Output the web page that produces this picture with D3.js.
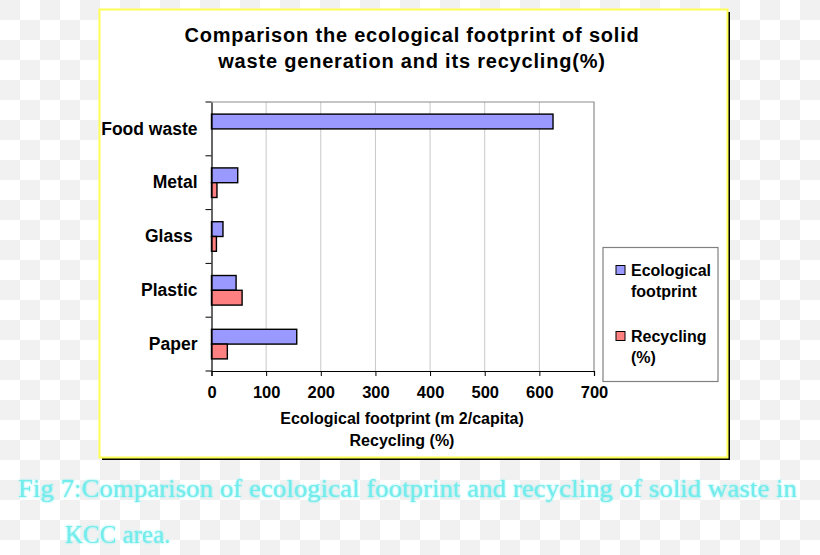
<!DOCTYPE html>
<html><head><meta charset="utf-8">
<script src="https://cdn.jsdelivr.net/npm/d3@7"></script>
<style>
body{margin:0;padding:0;background:#fff;}
svg text{font-family:"Liberation Sans",Arial,sans-serif;}
svg text.cap{font-family:"Liberation Serif","Times New Roman",serif;}
</style></head>
<body><svg id="c" width="820" height="555"></svg>
<script>
const categories = ["Food waste", "Metal", "Glass ", "Plastic", "Paper"];
const ecological = [625, 48, 21, 45, 156];
const recycling = [null, 10, 9, 56, 29];
const seriesNames = ["Ecological footprint", "Recycling (%)"];
const xTicks = [0, 100, 200, 300, 400, 500, 600, 700];
const titleLines = ["Comparison the ecological footprint of solid", "waste generation and its recycling(%)"];
const axisTitleLines = ["Ecological footprint (m 2/capita)", "Recycling (%)"];
const captionLines = ["Fig 7:Comparison of ecological footprint and recycling of solid waste in", "KCC area."];

const svg = d3.select("#c");
const defs = svg.append("defs");
const pat = defs.append("pattern").attr("id","chk").attr("width",40).attr("height",40).attr("patternUnits","userSpaceOnUse");
pat.append("rect").attr("width",40).attr("height",40).attr("fill","#ffffff");
pat.append("rect").attr("width",20).attr("height",20).attr("fill","#f1f1f1");
pat.append("rect").attr("x",20).attr("y",20).attr("width",20).attr("height",20).attr("fill","#f1f1f1");
const glow = defs.append("filter").attr("id","glow").attr("x","-5%").attr("y","-30%").attr("width","110%").attr("height","160%");
glow.append("feGaussianBlur").attr("stdDeviation",1.2).attr("result","b");
const fm = glow.append("feMerge");
fm.append("feMergeNode").attr("in","b");
fm.append("feMergeNode").attr("in","SourceGraphic");

svg.append("rect").attr("width",820).attr("height",555).attr("fill","url(#chk)");

svg.append("rect").attr("x",102).attr("y",12).attr("width",628).attr("height",448).attr("fill","#000");
svg.append("rect").attr("x",99.5).attr("y",9.5).attr("width",628).attr("height",448).attr("fill","#fff").attr("stroke","#ffff55").attr("stroke-width",2);

const tt = svg.append("text").attr("text-anchor","middle").attr("font-weight","bold").attr("font-size",20).attr("letter-spacing",0.8).attr("fill","#000");
titleLines.forEach((l,i)=>tt.append("tspan").attr("x",412).attr("y",42+i*26).text(l));

const L=211.5, R=594, T=102, B=371;
const x = d3.scaleLinear().domain([0,700]).range([L,R]);
const y = d3.scaleBand().domain(categories).range([T,B]).paddingInner(0.45).paddingOuter(0.225);
const yi = d3.scaleBand().domain(["eco","rec"]).range([0,y.bandwidth()]);

svg.append("g").selectAll("line").data(xTicks.slice(1,-1)).join("line")
  .attr("x1",d=>x(d)).attr("x2",d=>x(d)).attr("y1",T).attr("y2",B)
  .attr("stroke","#c8c8c8").attr("stroke-width",1);
svg.append("path").attr("d",`M${L},${T}H${R}V${B}`).attr("fill","none").attr("stroke","#8c8c8c").attr("stroke-width",1.2);

const colors = {eco:"#9999ff", rec:"#ff8080"};
const rows = categories.map((c,i)=>({c, eco:ecological[i], rec:recycling[i]}));
const g = svg.append("g");
rows.forEach(r=>{
  ["eco","rec"].forEach(k=>{
    if(r[k]==null) return;
    g.append("rect").attr("x",x(0)).attr("y",y(r.c)+yi(k)).attr("width",x(r[k])-x(0)).attr("height",yi.bandwidth())
      .attr("fill",colors[k]).attr("stroke","#000").attr("stroke-width",1.4);
  });
});

const xa = svg.append("g").attr("transform",`translate(0,${B})`).call(d3.axisBottom(x).tickValues(xTicks).tickSize(5).tickPadding(10));
xa.select(".domain").attr("stroke","#000").attr("stroke-width",1.2);
xa.selectAll(".tick line").attr("stroke","#000");
xa.selectAll("text").attr("font-size",16.5).attr("font-weight","bold").attr("fill","#000").attr("font-family","Liberation Sans, Arial, sans-serif");

const ya = svg.append("g").attr("transform",`translate(${L},0)`).call(d3.axisLeft(y).tickSize(0).tickPadding(14));
ya.select(".domain").attr("stroke","#000").attr("stroke-width",1.2);
ya.selectAll("text").attr("font-size",17.5).attr("font-weight","bold").attr("fill","#000").attr("font-family","Liberation Sans, Arial, sans-serif").style("white-space","pre");
const bounds = categories.map(c=>y(c)-y.step()*y.paddingInner()/2).concat([B]);
svg.append("g").selectAll("line").data(bounds).join("line")
  .attr("x1",L-6).attr("x2",L).attr("y1",d=>d).attr("y2",d=>d).attr("stroke","#000").attr("stroke-width",1);

const at = svg.append("text").attr("text-anchor","middle").attr("font-weight","bold").attr("font-size",16).attr("fill","#000");
axisTitleLines.forEach((l,i)=>at.append("tspan").attr("x",402).attr("y",424+i*22).text(l));

svg.append("rect").attr("x",603).attr("y",247.5).attr("width",115).attr("height",134).attr("fill","#fff").attr("stroke","#808080").attr("stroke-width",1.2);
const legItems = [{k:"eco", lines:["Ecological","footprint"], y:270},{k:"rec", lines:["Recycling","(%)"], y:336}];
legItems.forEach(it=>{
  svg.append("rect").attr("x",616).attr("y",it.y-4.5).attr("width",9).attr("height",9).attr("fill",colors[it.k]).attr("stroke","#000").attr("stroke-width",1);
  const t = svg.append("text").attr("font-weight","bold").attr("font-size",16).attr("fill","#000");
  it.lines.forEach((l,i)=>t.append("tspan").attr("x",631).attr("y",it.y+6+i*21).text(l));
});

const cap = svg.append("text").attr("class","cap").attr("font-size",25).attr("fill","#72ecec").attr("filter","url(#glow)");
cap.append("tspan").attr("x",18).attr("y",497).attr("textLength",779).attr("lengthAdjust","spacingAndGlyphs").text(captionLines[0]);
cap.append("tspan").attr("x",65).attr("y",543).text(captionLines[1]);
</script></body></html>
